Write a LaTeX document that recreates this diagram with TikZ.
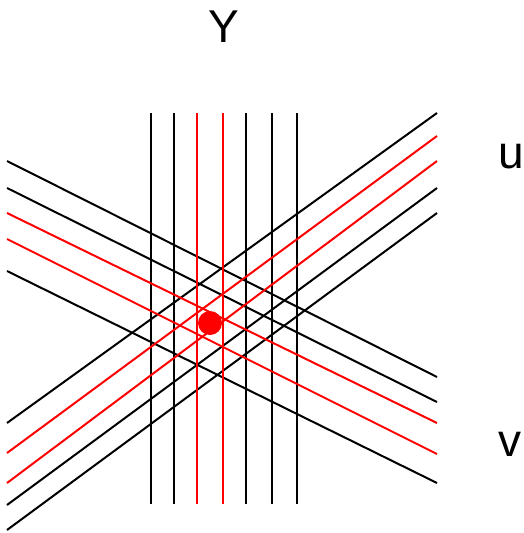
\documentclass[tikz,border=0pt]{standalone}
\usepackage{fontspec}
\setmainfont{Liberation Sans}
\begin{document}
\begin{tikzpicture}[x=1pt,y=-1pt,
  ln/.style={line width=2pt,black},
  rl/.style={line width=2pt,red},
  lbl/.style={anchor=base,inner sep=0pt,font=\fontsize{46}{46}\selectfont}]
\useasboundingbox (0,0) rectangle (524,533);
% vertical lines
\foreach \n/\x in {a/151,b/174,c/197,d/223,e/246,f/272,g/297}{
  \coordinate (v\n t) at (\x,113);
  \coordinate (v\n b) at (\x,504);
}
% down-right lines
\foreach \n/\yl/\yr in {a/161/377,b/188/402,c/213/423,d/239/454,e/271/483}{
  \coordinate (d\n l) at (7,\yl);
  \coordinate (d\n r) at (437,\yr);
}
% up-right lines
\foreach \n/\yl/\yr in {a/423/113,b/453/136,c/483/161,d/505/188,e/530/213}{
  \coordinate (u\n l) at (7,\yl);
  \coordinate (u\n r) at (437,\yr);
}
\foreach \n in {a,b,e,f,g} \draw[ln] (v\n t) -- (v\n b);
\foreach \n in {a,b,e} \draw[ln] (d\n l) -- (d\n r);
\foreach \n in {a,d,e} \draw[ln] (u\n l) -- (u\n r);
\foreach \n in {c,d} \draw[rl] (v\n t) -- (v\n b);
\foreach \n in {c,d} \draw[rl] (d\n l) -- (d\n r);
\foreach \n in {b,c} \draw[rl] (u\n l) -- (u\n r);
\node[circle,fill=red,inner sep=0pt,minimum size=24pt] (dot) at (210,323) {};
\node[lbl] (Y) at (224,42) {Y};
\node[lbl] (u) at (511,168) {u};
\node[lbl] (v) at (510,456) {v};
\end{tikzpicture}
\end{document}
